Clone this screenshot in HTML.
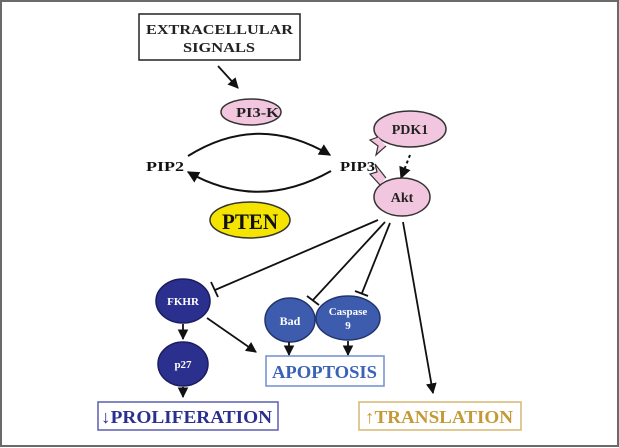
<!DOCTYPE html>
<html><head><meta charset="utf-8"><style>
html,body{margin:0;padding:0;background:#fff}
svg{display:block}
text{font-family:"Liberation Serif",serif;font-weight:bold}
</style></head><body>
<svg width="619" height="448" viewBox="0 0 619 448" xmlns="http://www.w3.org/2000/svg">
<defs>
<marker id="ar" viewBox="0 0 10 10" refX="9" refY="5" markerWidth="6" markerHeight="6" orient="auto"><path d="M0,0 L10,5 L0,10 z" fill="#111"/></marker>
</defs>
<rect x="1" y="1" width="617" height="445" fill="#fff" stroke="#6a6a6a" stroke-width="2"/>
<g>
<rect x="139" y="14" width="161" height="46" fill="#fff" stroke="#222" stroke-width="1.5"/>
<text x="146" y="34" font-size="14" textLength="147" lengthAdjust="spacingAndGlyphs" fill="#222">EXTRACELLULAR</text>
<text x="183" y="52" font-size="14" textLength="72" lengthAdjust="spacingAndGlyphs" fill="#222">SIGNALS</text>
</g>
<line x1="218" y1="66" x2="238" y2="88" stroke="#111" stroke-width="1.8" marker-end="url(#ar)"/>
<g>
<ellipse cx="251" cy="112" rx="30" ry="13" fill="#f2c6de" stroke="#333" stroke-width="1.5"/>
<text x="236" y="117" font-size="14" textLength="43" lengthAdjust="spacingAndGlyphs" fill="#222">PI3-K</text>
</g>
<text x="146" y="171" font-size="14" textLength="38" lengthAdjust="spacingAndGlyphs" fill="#111">PIP2</text>
<text x="340" y="171" font-size="14" textLength="35" lengthAdjust="spacingAndGlyphs" fill="#111">PIP3</text>
<path d="M188,156 Q258,112 330,155" fill="none" stroke="#111" stroke-width="2" marker-end="url(#ar)"/>
<path d="M331,171 Q258,212 188,172" fill="none" stroke="#111" stroke-width="2" marker-end="url(#ar)"/>
<g>
<ellipse cx="410" cy="129" rx="36" ry="18" fill="#f2c6de" stroke="#333" stroke-width="1.5"/>
<path d="M378,137 L370,140 L378,146 L376,155 L386,146" fill="#f2c6de" stroke="#333" stroke-width="1.2"/>
<text x="410" y="134" font-size="14" text-anchor="middle" fill="#222">PDK1</text>
</g>
<line x1="410" y1="155" x2="401" y2="178" stroke="#111" stroke-width="2" stroke-dasharray="3,3" marker-end="url(#ar)"/>
<g>
<path d="M380,185 L370,174 L377,172 L375,164 L386,178" fill="#f2c6de" stroke="#333" stroke-width="1.2"/>
<ellipse cx="402" cy="197" rx="28" ry="19" fill="#f2c6de" stroke="#333" stroke-width="1.5"/>
<text x="402" y="202" font-size="14" text-anchor="middle" fill="#222">Akt</text>
</g>
<g>
<ellipse cx="250" cy="220" rx="40" ry="18" fill="#f4e400" stroke="#333" stroke-width="1.5"/>
<text x="222" y="229" font-size="22" textLength="56" lengthAdjust="spacingAndGlyphs" fill="#111">PTEN</text>
</g>
<g stroke="#111" stroke-width="1.8" fill="none">
<line x1="378" y1="220" x2="215" y2="290"/><line x1="211" y1="282" x2="218" y2="297"/>
<line x1="385" y1="222" x2="313" y2="300"/><line x1="307" y1="296" x2="319" y2="305"/>
<line x1="390" y1="223" x2="362" y2="293"/><line x1="355" y1="291" x2="368" y2="296"/>
</g>
<line x1="403" y1="222" x2="433" y2="393" stroke="#111" stroke-width="1.8" marker-end="url(#ar)"/>
<g>
<ellipse cx="183" cy="301" rx="27" ry="22" fill="#2b2f8e" stroke="#1a1d5e" stroke-width="1.5"/>
<text x="183" y="305" font-size="11" text-anchor="middle" fill="#fff" font-weight="normal">FKHR</text>
</g>
<g>
<ellipse cx="290" cy="320" rx="25" ry="22" fill="#3d5cae" stroke="#23346e" stroke-width="1.5"/>
<text x="290" y="325" font-size="12" text-anchor="middle" fill="#fff" font-weight="normal">Bad</text>
</g>
<g>
<ellipse cx="348" cy="318" rx="32" ry="22" fill="#3d5cae" stroke="#23346e" stroke-width="1.5"/>
<text x="348" y="315" font-size="11" text-anchor="middle" fill="#fff" font-weight="normal">Caspase</text>
<text x="348" y="329" font-size="11" text-anchor="middle" fill="#fff" font-weight="normal">9</text>
</g>
<g stroke="#111" stroke-width="1.8">
<line x1="183" y1="324" x2="183" y2="339" marker-end="url(#ar)"/>
<line x1="183" y1="387" x2="183" y2="397" marker-end="url(#ar)"/>
<line x1="289" y1="342" x2="289" y2="355" marker-end="url(#ar)"/>
<line x1="348" y1="341" x2="348" y2="355" marker-end="url(#ar)"/>
<line x1="207" y1="318" x2="256" y2="352" marker-end="url(#ar)"/>
</g>
<g>
<ellipse cx="183" cy="364" rx="25" ry="22" fill="#2b2f8e" stroke="#1a1d5e" stroke-width="1.5"/>
<text x="183" y="368" font-size="11" text-anchor="middle" fill="#fff" font-weight="normal">p27</text>
</g>
<g>
<rect x="266" y="356" width="118" height="30" fill="#fff" stroke="#6f8fd0" stroke-width="1.5"/>
<text x="272" y="378" font-size="18" textLength="105" lengthAdjust="spacingAndGlyphs" fill="#3a62b5">APOPTOSIS</text>
</g>
<g>
<rect x="98" y="402" width="180" height="28" fill="#fff" stroke="#5a5fb0" stroke-width="1.5"/>
<text x="101" y="423" font-size="18" textLength="171" lengthAdjust="spacingAndGlyphs" fill="#2b2f8e">↓PROLIFERATION</text>
</g>
<g>
<rect x="359" y="402" width="162" height="28" fill="#fff" stroke="#d6b770" stroke-width="1.5"/>
<text x="365" y="423" font-size="18" textLength="148" lengthAdjust="spacingAndGlyphs" fill="#c49a36">↑TRANSLATION</text>
</g>
</svg>
</body></html>
